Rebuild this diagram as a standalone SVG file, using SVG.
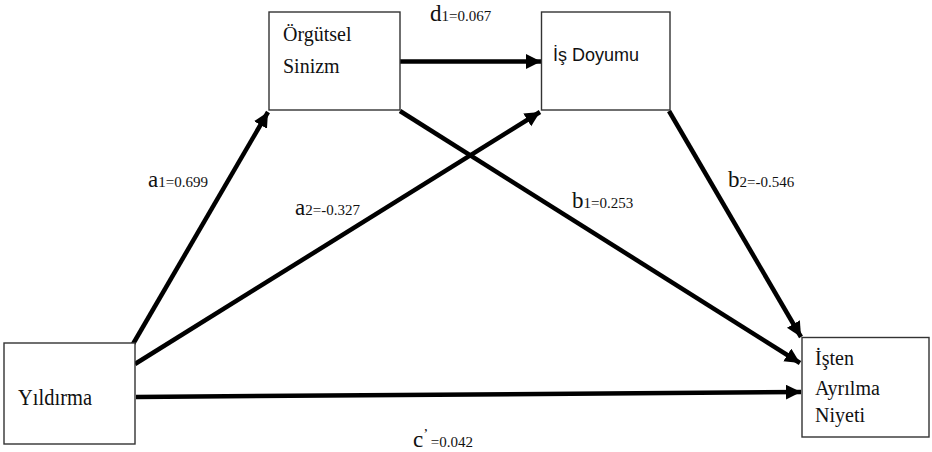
<svg xmlns="http://www.w3.org/2000/svg" width="932" height="452" viewBox="0 0 932 452">
<defs>
<marker id="ah" markerUnits="userSpaceOnUse" markerWidth="16" markerHeight="16" refX="15" refY="7.5" orient="auto">
<path d="M0,0 L15,7.5 L0,15 z" fill="#000"/>
</marker>
</defs>
<style>
.box{fill:#fff;stroke:#333;stroke-width:1.4}
.t{font-size:20px;fill:#111}
.s{font-size:18px;fill:#111}
.lbl{font-size:15px;fill:#111}
.big{font-size:23px}
.edge{stroke:#000;stroke-width:4.5;fill:none;marker-end:url(#ah)}
</style>
<rect width="932" height="452" fill="#fff"/>
<g id="connectors">
<line class="edge" x1="400" y1="61.5" x2="541" y2="61.5"/>
<line class="edge" x1="133" y1="344" x2="268" y2="112"/>
<line class="edge" x1="135" y1="364" x2="540" y2="112"/>
<line class="edge" x1="400" y1="111" x2="800" y2="363"/>
<line class="edge" x1="669" y1="111" x2="801" y2="337"/>
<line class="edge" x1="136" y1="397" x2="801" y2="392"/>
</g>
<g id="labels" font-family="'Liberation Serif', 'DejaVu Serif', serif">
<text class="lbl" x="430" y="21"><tspan class="big">d</tspan>1=0.067</text>
<text class="lbl" x="148" y="187"><tspan class="big">a</tspan>1=0.699</text>
<text class="lbl" x="295" y="215"><tspan class="big">a</tspan>2=-0.327</text>
<text class="lbl" x="572" y="208"><tspan class="big">b</tspan>1=0.253</text>
<text class="lbl" x="728" y="187"><tspan class="big">b</tspan>2=-0.546</text>
<text class="lbl" x="413" y="447"><tspan class="big">c</tspan><tspan dy="-8">’</tspan><tspan dy="8"> =0.042</tspan></text>
</g>
<g id="orgutsel" font-family="'Liberation Serif', 'DejaVu Serif', serif">
<rect class="box" x="269" y="12" width="131" height="98"/>
<text class="t" x="283" y="41">Örgütsel</text>
<text class="t" x="283" y="73">Sinizm</text>
</g>
<g id="isdoyumu" font-family="'Liberation Sans', Arial, sans-serif">
<rect class="box" x="541.5" y="12" width="128.5" height="98"/>
<text class="s" x="553" y="61">İş Doyumu</text>
</g>
<g id="yildirma" font-family="'Liberation Serif', 'DejaVu Serif', serif">
<rect class="box" x="4" y="343" width="131" height="101"/>
<text class="t" x="18" y="405" style="font-size:24px" textLength="74" lengthAdjust="spacingAndGlyphs">Yıldırma</text>
</g>
<g id="isten" font-family="'Liberation Serif', 'DejaVu Serif', serif">
<rect class="box" x="802" y="337.5" width="127" height="99.5"/>
<text class="t" x="815" y="365">İşten</text>
<text class="t" x="815" y="395">Ayrılma</text>
<text class="t" x="815" y="422">Niyeti</text>
</g>
</svg>
